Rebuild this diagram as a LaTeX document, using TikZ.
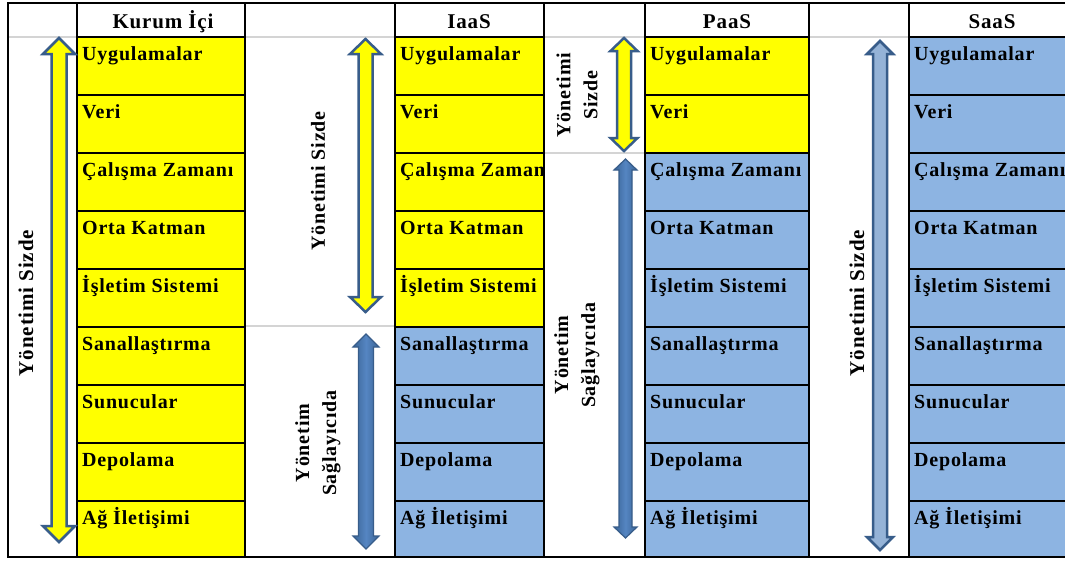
\documentclass[tikz,border=0pt]{standalone}
\usepackage{fontspec}
\setmainfont{Liberation Serif}[LetterSpace=4]
\definecolor{cyel}{HTML}{FFFF00}
\definecolor{cblue}{HTML}{8DB4E2}
\definecolor{aline}{HTML}{385D8A}
\definecolor{ablue}{HTML}{5585C2}
\definecolor{ablued}{HTML}{3A6596}
\definecolor{alight}{HTML}{95B3D7}
\definecolor{gline}{HTML}{D4D4D4}
\newcommand\myarrow[7]{%
  \draw[#1] (#2,#3) -- (#2+#5,#3+#7) -- (#2+#6,#3+#7) -- (#2+#6,#4-#7) -- (#2+#5,#4-#7)
    -- (#2,#4) -- (#2-#5,#4-#7) -- (#2-#6,#4-#7) -- (#2-#6,#3+#7) -- (#2-#5,#3+#7) -- cycle;}
\newcommand\colblock[4]{%
  \foreach \lbl [count=\r from 0] in {Uygulamalar,Veri,Çalışma Zamanı,Orta Katman,İşletim Sistemi,Sanallaştırma,Sunucular,Depolama,Ağ İletişimi}{%
    \pgfmathsetmacro\yt{37+58*\r}%
    \pgfmathsetmacro\yb{min(37+58*(\r+1),557)}%
    \ifnum\r<#4\relax\def\cc{cyel}\else\def\cc{cblue}\fi
    \draw[cell, fill=\cc] (#2,\yt) rectangle (#3,\yb);
  }%
  \begin{scope}
    \clip (#2,37) rectangle (#3-1,557);
    \foreach \lbl [count=\r from 0] in {Uygulamalar,Veri,Çalışma Zamanı,Orta Katman,İşletim Sistemi,Sanallaştırma,Sunucular,Depolama,Ağ İletişimi}{%
      \pgfmathsetmacro\yt{37+58*\r}%
      \node[celltext] (t#1\r) at (#2+5,\yt+23) {\lbl};
    }%
  \end{scope}}
\begin{document}
\begin{tikzpicture}[x=1pt,y=-1pt,
  cell/.style={draw=black, line width=2pt},
  gray line/.style={draw=gline, line width=2pt},
  celltext/.style={anchor=base west, inner sep=0pt, font=\fontsize{20}{24}\selectfont\bfseries},
  head/.style={anchor=base, inner sep=0pt, font=\fontsize{21}{24}\selectfont\bfseries},
  side/.style={rotate=90, align=center, inner sep=0pt, font=\fontsize{20}{27}\selectfont\bfseries},
  bigside/.style={side, font=\fontsize{21}{27}\selectfont\bfseries},
  yarrow/.style={fill=cyel, draw=aline, line width=2.5pt, line join=miter},
  barrow/.style={left color=ablued, right color=ablued, middle color=ablue, draw=aline, line width=1.2pt, line join=miter},
  larrow/.style={fill=alight, draw=aline, line width=2.5pt, line join=miter},
]
\useasboundingbox (0,0) rectangle (1065,560);
\clip (0,0) rectangle (1065,560);
\fill[white] (0,0) rectangle (1065,560);

% gray separators in arrow columns
\draw[gray line] (8,37) -- (77,37);
\draw[gray line] (245,37) -- (395,37);
\draw[gray line] (544,37) -- (645,37);
\draw[gray line] (809,37) -- (909,37);
\draw[gray line] (245,326) -- (395,326);
\draw[gray line] (544,153) -- (645,153);

% columns of layers
\colblock{k}{77}{245}{9}
\colblock{i}{395}{544}{5}
\colblock{p}{645}{809}{2}
\colblock{s}{909}{1075}{0}

% headers
\draw[cell] (77,3) rectangle (245,37);
\draw[cell] (395,3) rectangle (544,37);
\draw[cell] (645,3) rectangle (809,37);
\draw[cell] (909,3) rectangle (1075,37);
\node[head] (hk) at (163,28) {Kurum İçi};
\node[head] (hi) at (469,28) {IaaS};
\node[head] (hp) at (727,28) {PaaS};
\node[head] (hs) at (992,28) {SaaS};

% outer border
\draw[black, line width=2pt] (8,3) rectangle (1075,557);

% arrows
\myarrow{yarrow}{59}{38}{542}{16}{7.5}{16}
\myarrow{yarrow}{365.5}{39}{312}{15.5}{7}{15}
\myarrow{barrow}{366}{334}{549}{13}{7.5}{13}
\myarrow{yarrow}{624}{38}{151}{13.5}{7}{13}
\myarrow{barrow}{625.5}{159}{538}{11.5}{6.5}{11}
\myarrow{larrow}{880}{41}{550}{13}{7}{13}

% side labels
\node[bigside] (lk) at (26,303) {Yönetimi Sizde};
\node[side] (li1) at (318,181) {Yönetimi Sizde};
\node[side] (li2) at (318,443) {Yönetim\\Sağlayıcıda};
\node[side] (lp1) at (577,95) {Yönetimi\\Sizde};
\node[side] (lp2) at (577,355) {Yönetim\\Sağlayıcıda};
\node[bigside] (ls) at (857,303) {Yönetimi Sizde};
\end{tikzpicture}
\end{document}
